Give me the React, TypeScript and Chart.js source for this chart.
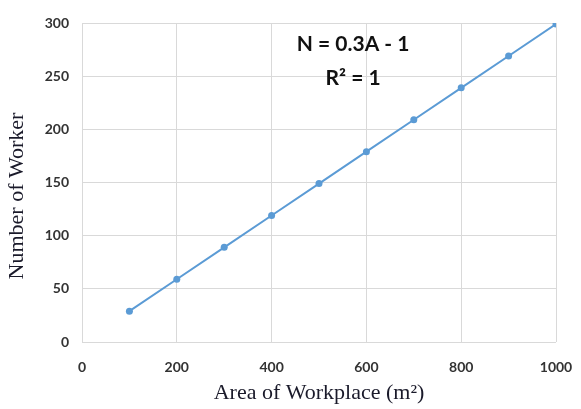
import React, { useEffect, useRef } from "react";
import { Chart, registerables } from "chart.js";

Chart.register(...registerables);

const areas = [100, 200, 300, 400, 500, 600, 700, 800, 900, 1000];
const workers = [29, 59, 89, 119, 149, 179, 209, 239, 269, 299];
const equationLines = ["N = 0.3A - 1", "R\u00B2 = 1"];
const xTitle = "Area of Workplace (m\u00B2)";
const yTitle = "Number of Worker";

const W = 581;
const H = 409;

const tickFont = { family: "Lato, 'Liberation Sans', Arial, sans-serif", size: 14, weight: "bold" as const };
const titleFamily = "'Liberation Serif', 'Times New Roman', serif";

export default function App() {
  const ref = useRef<HTMLCanvasElement | null>(null);

  useEffect(() => {
    const canvas = ref.current;
    if (!canvas) return;

    const overlay = {
      id: "overlay",
      afterDraw(chart: any) {
        const ctx = chart.ctx;
        ctx.save();
        // y-axis title
        ctx.fillStyle = "#1a1a2a";
        ctx.font = "22px " + titleFamily;
        ctx.textAlign = "center";
        ctx.textBaseline = "middle";
        ctx.translate(17, 196);
        ctx.rotate(-Math.PI / 2);
        ctx.fillText(yTitle, 0, 0);
        ctx.restore();

        // equation annotation
        ctx.save();
        ctx.fillStyle = "#111111";
        ctx.font = "bold 21px Lato, 'Liberation Sans', sans-serif";
        ctx.textAlign = "center";
        ctx.textBaseline = "middle";
        const xs = chart.scales.x;
        const cx = xs.getPixelForValue(572);
        ctx.fillText(equationLines[0], cx, 44);
        ctx.fillText(equationLines[1], cx, 78);
        ctx.restore();
      },
    };

    const chart = new Chart(canvas, {
      type: "line",
      data: {
        datasets: [
          {
            data: areas.map((a, i) => ({ x: a, y: workers[i] })),
            borderColor: "#5B9BD5",
            backgroundColor: "#5B9BD5",
            borderWidth: 2,
            pointRadius: 3.5,
            pointBorderWidth: 0,
            pointBackgroundColor: "#5B9BD5",
            tension: 0,
            fill: false,
          },
        ],
      },
      options: {
        responsive: false,
        animation: false,
        layout: { padding: { top: 23, right: 25, left: 0, bottom: 0 } },
        plugins: {
          legend: { display: false },
          tooltip: { enabled: false },
        },
        scales: {
          x: {
            type: "linear",
            min: 0,
            max: 1000,
            grid: { color: "#d9d9d9", drawTicks: false, lineWidth: 1 },
            border: { display: false },
            ticks: {
              stepSize: 200,
              padding: 17,
              color: "#333333",
              font: tickFont,
              callback: (v: any) => String(v),
            },
            title: {
              display: true,
              text: xTitle,
              color: "#1a1a2a",
              font: { family: titleFamily, size: 22 },
              padding: { top: 0, bottom: 3 },
            },
            afterFit(scale: any) {
              scale.height = 67;
              scale.paddingLeft = 0;
              scale.paddingRight = 0;
            },
          },
          y: {
            type: "linear",
            min: 0,
            max: 300,
            grid: { color: "#d9d9d9", drawTicks: false, lineWidth: 1 },
            border: { display: false },
            ticks: {
              stepSize: 50,
              padding: 13,
              color: "#333333",
              font: tickFont,
              callback: (v: any) => String(v),
            },
            afterFit(scale: any) {
              scale.width = 82;
              scale.paddingTop = 0;
              scale.paddingBottom = 0;
            },
          },
        },
      },
      plugins: [overlay],
    });

    return () => chart.destroy();
  }, []);

  return (
    <div style={{ position: "absolute", left: 0, top: 0, width: W, height: H, background: "#ffffff" }}>
      <canvas ref={ref} width={W} height={H} style={{ width: W, height: H, display: "block" }} />
    </div>
  );
}
